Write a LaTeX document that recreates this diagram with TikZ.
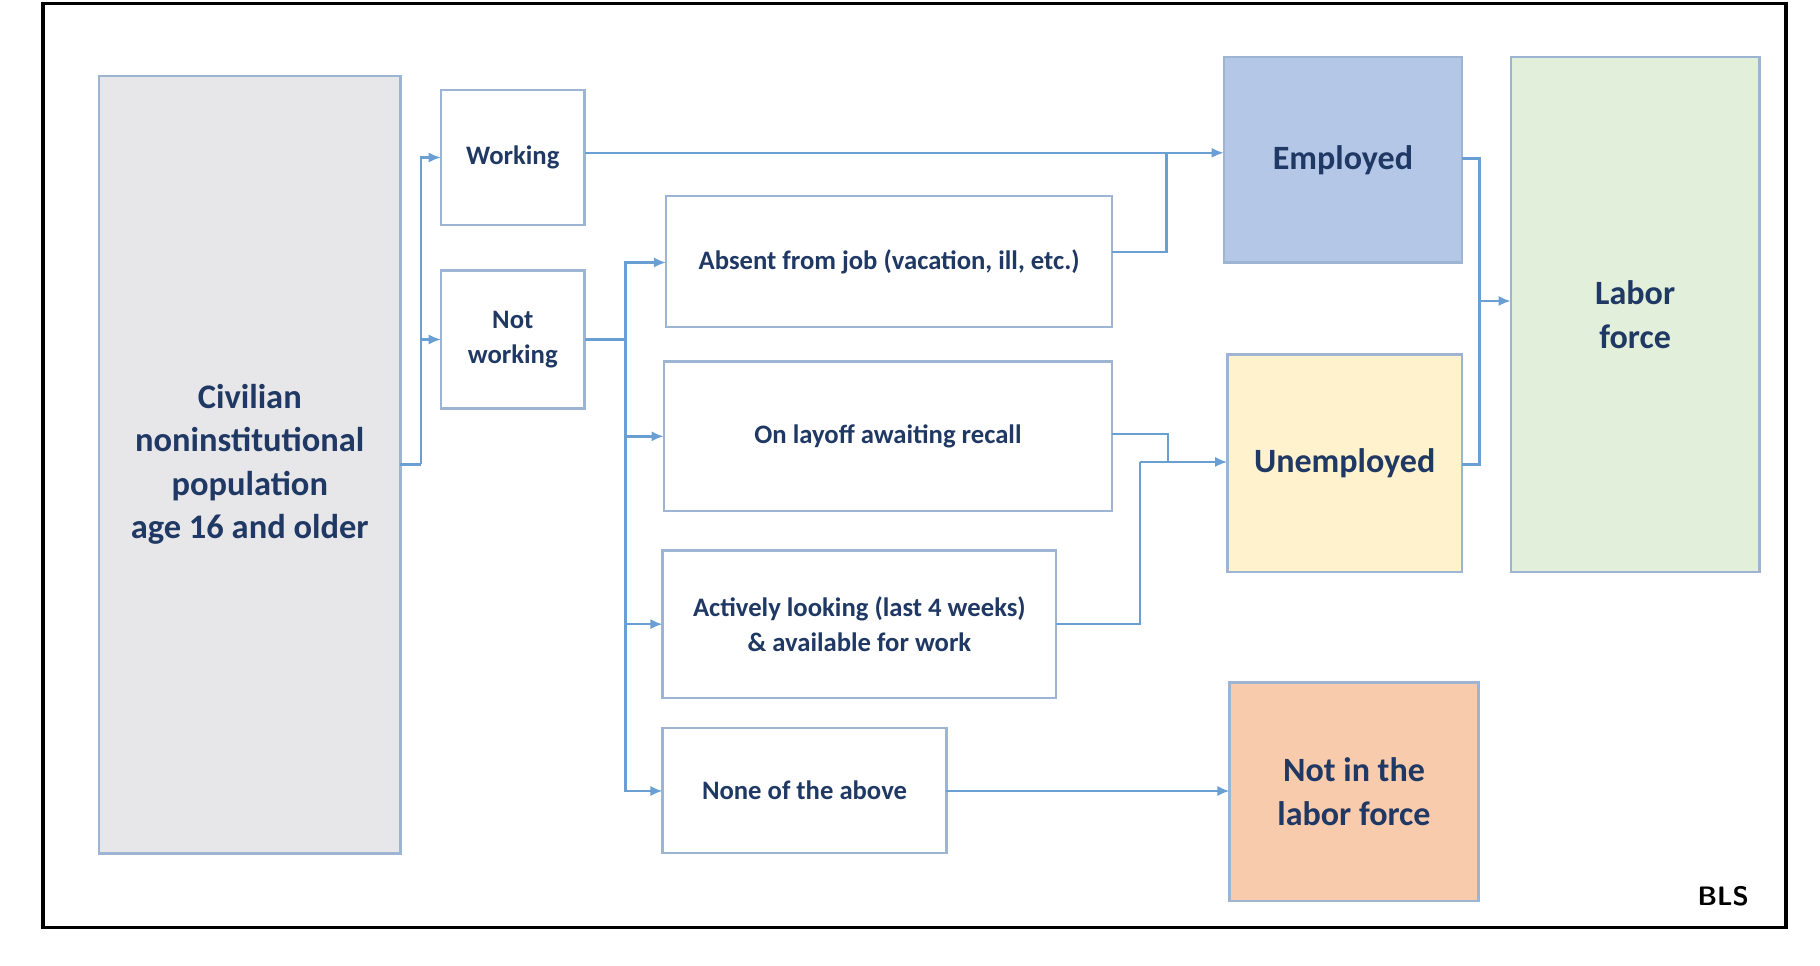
\documentclass[tikz,border=0pt]{standalone}
\usepackage{fontspec}
\setmainfont{Carlito}
\usetikzlibrary{arrows.meta}
\definecolor{navy}{HTML}{1F3864}
\definecolor{bord}{HTML}{9DB5D3}
\definecolor{conn}{HTML}{6A9FD3}
\definecolor{cgray}{HTML}{E7E6E8}
\definecolor{cemp}{HTML}{B4C7E7}
\definecolor{cun}{HTML}{FFF2CC}
\definecolor{cnl}{HTML}{F8CBAD}
\definecolor{clf}{HTML}{E2EFDA}
\begin{document}
\begin{tikzpicture}[x=0.01cm,y=-0.01cm,
 box/.style={draw=bord,line width=0.6pt,anchor=north west,inner sep=0pt,outer sep=0pt,align=center,text=navy,font=\bfseries\fontsize{6.5}{8.5}\selectfont},
 big/.style={box,font=\bfseries\fontsize{8.3}{10.6}\selectfont},
 conn/.style={draw=conn,line width=0.6pt},
 arr/.style={conn,-{Latex[length=3pt,width=2.5pt]}}]
\useasboundingbox (0,0) rectangle (1560,828);
\draw[line width=0.9pt] (37,3) rectangle (1531,795);
\node[big,fill=cgray,minimum width=2.58cm,minimum height=6.66cm,font=\bfseries\fontsize{8.4}{10.6}\selectfont] (civ) at (85,65) {Civilian\\noninstitutional\\population\\age 16 and older};
\node[box,minimum width=1.23cm,minimum height=1.16cm] (wk) at (378,77) {Working};
\node[box,minimum width=1.23cm,minimum height=1.18cm] (nw) at (378,232) {Not\\working};
\node[box,minimum width=3.82cm,minimum height=1.12cm] (ab) at (571,168) {Absent from job (vacation, ill, etc.)};
\node[box,minimum width=3.84cm,minimum height=1.28cm] (lo) at (569,310) {On layoff awaiting recall};
\node[box,minimum width=3.37cm,minimum height=1.26cm] (al) at (568,472) {Actively looking (last 4 weeks)\\\& available for work};
\node[box,minimum width=2.43cm,minimum height=1.07cm] (no) at (568,624) {None of the above};
\node[big,fill=cemp,minimum width=2.04cm,minimum height=1.76cm] (em) at (1049,49) {Employed};
\node[big,fill=cun,minimum width=2.01cm,minimum height=1.86cm] (un) at (1052,304) {Unemployed};
\node[big,fill=cnl,minimum width=2.13cm,minimum height=1.87cm] (nl) at (1054,585) {Not in the\\labor force};
\node[big,fill=clf,minimum width=2.13cm,minimum height=4.41cm] (lf) at (1295,49) {Labor\\force};
\node[font=\sffamily\bfseries\fontsize{6.5}{8}\selectfont,inner sep=0pt] (bls) at (1477,768) {BLS};
\coordinate (c1) at (361,398);
\draw[conn] (civ.east |- c1) -- (c1);
\draw[arr] (c1) |- (378,135);
\draw[arr] (c1) |- (378,291);
\coordinate (c2) at (536,291);
\draw[conn] (nw.east |- c2) -- (c2);
\draw[arr] (c2) |- (571,225);
\draw[arr] (c2) |- (569,374);
\draw[arr] (c2) |- (568,535);
\draw[arr] (c2) |- (568,678);
\draw[arr] (501,131) -- (1049,131);
\draw[conn] (953,216) -| (1000,131);
\coordinate (u) at (1052,396);
\draw[conn] (953,372) -| (1001,396);
\draw[conn] (905,535) -| (977,396);
\draw[arr] (977,396) -- (u);
\draw[arr] (811,678) -- (1054,678);
\draw[conn] (1253,136) -| (1268,398) -- (1253,398);
\draw[arr] (1268,258) -- (1295,258);
\end{tikzpicture}
\end{document}
